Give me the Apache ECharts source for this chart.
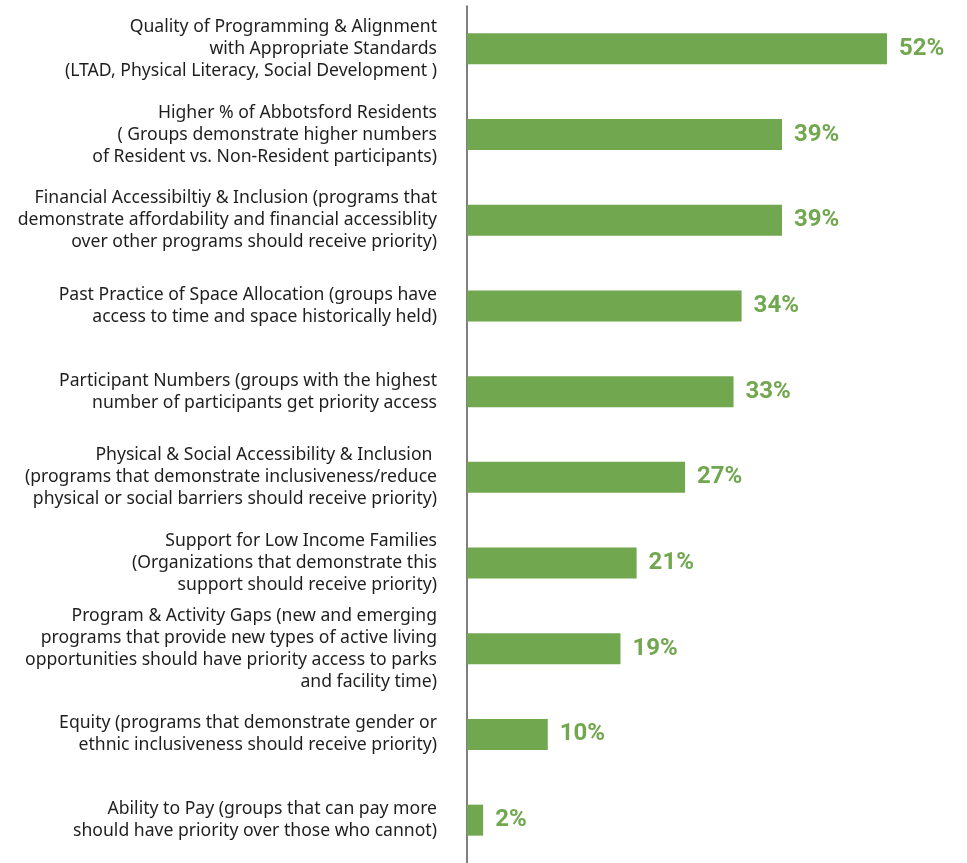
<!DOCTYPE html>
<html>
<head>
<meta charset="utf-8">
<script src="https://cdn.jsdelivr.net/npm/echarts@6/dist/echarts.min.js"></script>
<style>
  html, body { margin: 0; padding: 0; background: #fff; }
  #chart { width: 967px; height: 863px; }
</style>
</head>
<body>
<div id="chart"></div>
<script>
// Priority criteria (multi-line labels) and share of respondents, in percent
const categories = [
  "Quality of Programming & Alignment\nwith Appropriate Standards\n(LTAD, Physical Literacy, Social Development )",
  "Higher % of Abbotsford Residents\n( Groups demonstrate higher numbers\nof Resident vs. Non-Resident participants)",
  "Financial Accessibiltiy & Inclusion (programs that\ndemonstrate affordability and financial accessiblity\nover other programs should receive priority)",
  "Past Practice of Space Allocation (groups have\naccess to time and space historically held)",
  "Participant Numbers (groups with the highest\nnumber of participants get priority access",
  "Physical & Social Accessibility & Inclusion \n(programs that demonstrate inclusiveness/reduce\nphysical or social barriers should receive priority)",
  "Support for Low Income Families\n(Organizations that demonstrate this\nsupport should receive priority)",
  "Program & Activity Gaps (new and emerging\nprograms that provide new types of active living\nopportunities should have priority access to parks\nand facility time)",
  "Equity (programs that demonstrate gender or\nethnic inclusiveness should receive priority)",
  "Ability to Pay (groups that can pay more\nshould have priority over those who cannot)"
];
const values = [52, 39, 39, 34, 33, 27, 21, 19, 10, 2];

const chart = echarts.init(document.getElementById('chart'));
chart.setOption({
  animation: false,
  backgroundColor: '#ffffff',
  grid: { left: 467, top: 6, width: 484.6, height: 859, containLabel: false },
  xAxis: {
    type: 'value', min: 0, max: 60,
    show: false
  },
  yAxis: {
    type: 'category',
    data: categories,
    inverse: true,
    axisLine: { show: true, lineStyle: { color: '#555555', width: 1.5 } },
    axisTick: { show: false },
    axisLabel: {
      margin: 30,
      align: 'right',
      color: '#1e1e1e',
      fontFamily: 'Noto Sans',
      fontSize: 17.6,
      lineHeight: 22
    }
  },
  series: [{
    type: 'bar',
    data: values,
    barWidth: 31,
    itemStyle: { color: '#71a74f' },
    label: {
      show: true,
      position: 'right',
      distance: 12,
      formatter: '{c}%',
      color: '#71a74f',
      fontFamily: 'Roboto',
      fontWeight: 'bold',
      fontSize: 24
    }
  }]
});
</script>
</body>
</html>
